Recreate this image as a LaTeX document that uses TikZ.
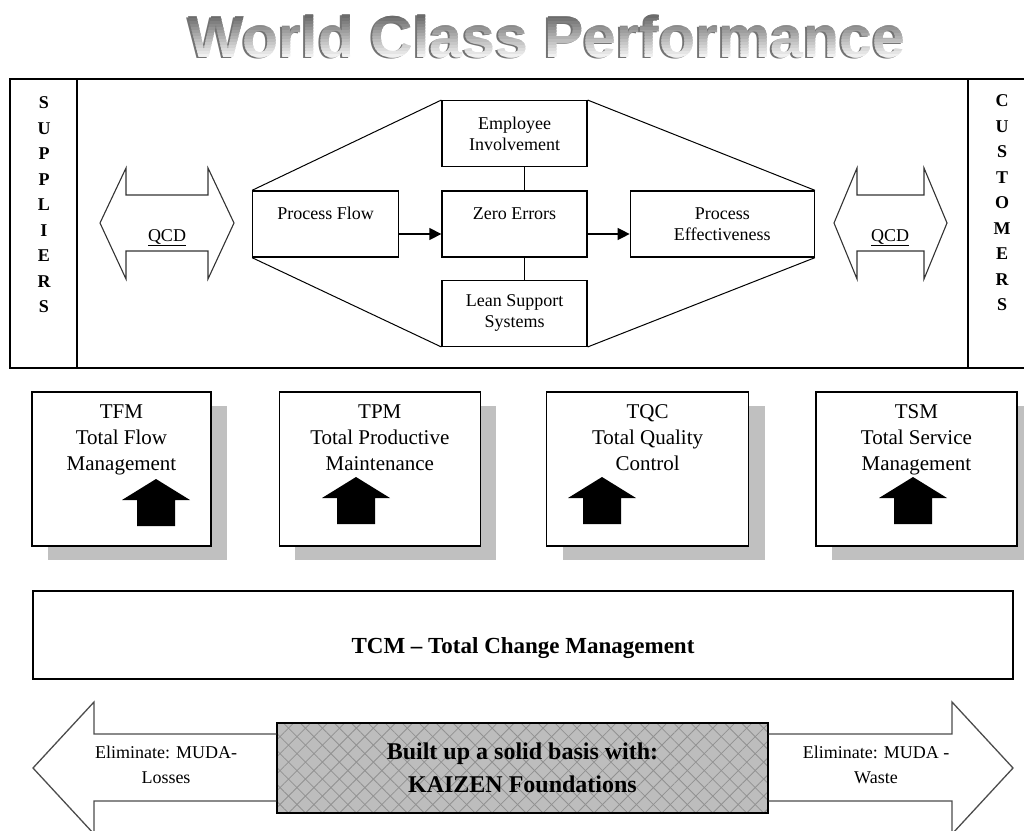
\documentclass[tikz,border=0pt]{standalone}
\usepackage{fontspec}
\setmainfont{Liberation Serif}
\newfontfamily\titleFont{Liberation Sans}
\usepackage{tikz}
\usetikzlibrary{positioning,arrows.meta,shadows,patterns.meta}
\definecolor{shadowCol}{RGB}{192,192,192}
\definecolor{hatchFillCol}{RGB}{189,189,189}
\definecolor{hatchLineCol}{RGB}{145,145,145}
\tikzset{myFrame/.style={line width=0.6mm,color=black}}
\tikzset{myHexBox/.style={draw, line width=1.3pt, minimum height=66pt, inner sep=2pt, align=center, font=\fontsize{18}{21}\selectfont}}
\tikzset{myPillar/.style={draw, fill=white, line width=1.3pt, minimum height=154pt, drop shadow={shadow xshift=16pt, shadow yshift=-14pt, fill=shadowCol, opacity=1}}}
\tikzset{myPillarText/.style={align=center, inner sep=0pt, font=\fontsize{21}{26}\selectfont}}
\tikzset{myLetters/.style={align=center, inner sep=0pt, font=\bfseries\fontsize{18}{25.5}\selectfont}}
\tikzset{myQcd/.style={draw=black!80, line width=1.1pt}}
\tikzset{myBigArrow/.style={draw=black!70, line width=1.3pt}}
\tikzset{myFlowArrow/.style={line width=1.3pt, -{Triangle[length=12pt,width=12pt]}}}
\tikzset{myTitle/.style={anchor=base, inner sep=0pt, font=\titleFont\bfseries\fontsize{59}{59}\selectfont}}
\tikzset{myUpArrow/.pic={\fill (-34,0) -- (0,-21) -- (34,0) -- (19,0) -- (19,26) -- (-19,26) -- (-19,0) -- cycle;}}

\begin{document}
\begin{tikzpicture}[x=1pt,y=-1pt]
	\useasboundingbox (0,0) rectangle (1024,830);
	% title, shaded in strips
	\node[myTitle, text=black!55] (titleShadow) at (544.5,58.5) {World Class Performance};
	\foreach \i in {0,...,15}{
		\pgfmathtruncatemacro{\shadeVal}{62-4*\i}
		\begin{scope}
			\clip (150,{12+3*\i}) rectangle (950,{16+3*\i});
			\node[myTitle, text=black!\shadeVal] (title\i) at (546.5,57) {World Class Performance};
		\end{scope}
	}

	\draw[myFrame] (10,79) rectangle (1035,368);
	\draw[myFrame] (77,79) -- (77,368);
	\draw[myFrame] (968,79) -- (968,368);
	\node[myLetters] (sup) at (44,205) {S\\U\\P\\P\\L\\I\\E\\R\\S};
	\node[myLetters] (cust) at (1002,203) {C\\U\\S\\T\\O\\M\\E\\R\\S};

	\draw[myQcd] (100,223) -- (126,168) -- (126,195) -- (208,195) -- (208,168) -- (234,223) -- (208,279) -- (208,251) -- (126,251) -- (126,279) -- cycle;
	\node[anchor=base, font=\fontsize{18}{21}\selectfont] (qcdLeft) at (167,241) {\underline{QCD}};
	\draw[myQcd] (834,223) -- (857,168) -- (857,195) -- (924,195) -- (924,168) -- (947,223) -- (924,279) -- (924,251) -- (857,251) -- (857,279) -- cycle;
	\node[anchor=base, font=\fontsize{18}{21}\selectfont] (qcdRight) at (890,241) {\underline{QCD}};

	\node[myHexBox, minimum width=145pt] (ze) at (514.5,224) {Zero Errors\\\mbox{}};
	\node[myHexBox, minimum width=146pt, left=42pt of ze] (pf) {Process Flow\\\mbox{}};
	\node[myHexBox, minimum width=184pt, right=42pt of ze] (pe) {Process\\Effectiveness};
	\node[myHexBox, minimum width=145pt, above=23pt of ze] (ei) {Employee\\Involvement};
	\node[myHexBox, minimum width=145pt, below=22pt of ze] (ls) {Lean Support\\Systems};
	\draw[line width=1pt] (pf.north west) -- (ei.north west);
	\draw[line width=1pt] (ei.north east) -- (pe.north east);
	\draw[line width=1pt] (pf.south west) -- (ls.south west);
	\draw[line width=1pt] (ls.south east) -- (pe.south east);
	\draw[myFlowArrow] ([yshift=-10pt]pf.east) -- ([yshift=-10pt]ze.west);
	\draw[myFlowArrow] ([yshift=-10pt]ze.east) -- ([yshift=-10pt]pe.west);
	\draw[line width=1.3pt] ([xshift=10pt]ei.south) -- ([xshift=10pt]ze.north);
	\draw[line width=1.3pt] ([xshift=10pt]ze.south) -- ([xshift=10pt]ls.north);

	\node[myPillar, minimum width=179pt] (tfm) at (121.5,469) {};
	\node[myPillar, minimum width=201pt, right=67pt of tfm] (tpm) {};
	\node[myPillar, minimum width=202pt, right=65pt of tpm] (tqc) {};
	\node[myPillar, minimum width=201pt, right=66pt of tqc] (tsm) {};
	\node[myPillarText, below=13pt of tfm.north] (tfmTxt) {TFM\\Total Flow\\Management};
	\node[myPillarText, below=13pt of tpm.north] (tpmTxt) {TPM\\Total Productive\\Maintenance};
	\node[myPillarText, below=13pt of tqc.north] (tqcTxt) {TQC\\Total Quality\\Control};
	\node[myPillarText, below=13pt of tsm.north] (tsmTxt) {TSM\\Total Service\\Management};
	\pic at (156,500) {myUpArrow};
	\pic at (356,498) {myUpArrow};
	\pic at (602,498) {myUpArrow};
	\pic at (913,498) {myUpArrow};

	\node[draw, line width=1.3pt, minimum width=980pt, minimum height=88pt] (tcm) at (523,635) {};
	\node[anchor=base, font=\bfseries\fontsize{23}{26}\selectfont] (tcmTxt) at (523,653) {TCM – Total Change Management};

	\node[draw, line width=1.3pt,
		preaction={fill=hatchFillCol},
		preaction={pattern={Lines[angle=45,distance=12pt,line width=0.8pt]}, pattern color=hatchLineCol},
		preaction={pattern={Lines[angle=-45,distance=12pt,line width=0.8pt]}, pattern color=hatchLineCol},
		minimum width=491pt, minimum height=90pt, align=center, font=\bfseries\fontsize{24}{33}\selectfont] (kz) at (522.5,768) {Built up a solid basis with:\\KAIZEN Foundations};
	\draw[myBigArrow] ([yshift=34pt]kz.west) -- (94,734) -- (94,702) -- (33,768) -- (94,834) -- (94,801) -- ([yshift=-33pt]kz.west);
	\draw[myBigArrow] ([yshift=34pt]kz.east) -- (952,734) -- (952,702) -- (1013,768) -- (952,834) -- (952,801) -- ([yshift=-33pt]kz.east);
	\node[align=center, font=\fontsize{18}{25}\selectfont] (elimLeft) at (166,765) {Eliminate: MUDA-\\Losses};
	\node[align=center, font=\fontsize{18}{25}\selectfont] (elimRight) at (876,765) {Eliminate: MUDA -\\Waste};
\end{tikzpicture}
\end{document}
